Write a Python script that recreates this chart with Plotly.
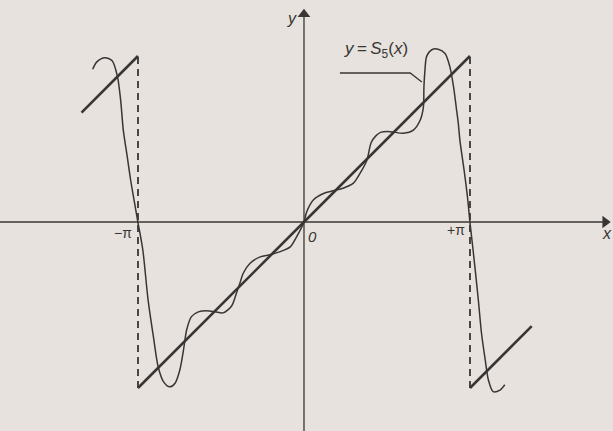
import math
import plotly.graph_objects as go

PI = math.pi

# Sawtooth f(x) = x on (-pi, pi) and its periodic continuation
saw_mid_x = [-PI, PI]
saw_mid_y = [-PI, PI]
saw_left_x = [-4.21, -PI]
saw_left_y = [2.07, PI]
saw_right_x = [PI, 4.31]
saw_right_y = [-PI, -1.97]

# Jump lines at x = -pi and x = +pi
jump_x = [-PI, PI]
jump_lo = [-PI, -PI]
jump_hi = [PI, PI]

# Partial sum S5(x), sampled along the drawn curve
s5_x = [-4.00, -3.92, -3.77, -3.63, -3.53, -3.47, -3.42, -3.35, -3.28, -3.21,
        -3.14, -3.05, -2.95, -2.85, -2.76, -2.66, -2.54, -2.44, -2.35, -2.28,
        -2.22, -2.13, -2.00, -1.84, -1.68, -1.53, -1.37, -1.27, -1.21, -1.15,
        -1.02, -0.83, -0.64, -0.45, -0.26, -0.14, 0.00, 0.05, 0.18, 0.37,
        0.55, 0.74, 0.93, 1.06, 1.19, 1.27, 1.36, 1.46, 1.63, 1.88,
        2.07, 2.20, 2.26, 2.27, 2.29, 2.32, 2.42, 2.54, 2.67, 2.76,
        2.83, 2.88, 2.92, 2.95, 3.03, 3.10, 3.14, 3.20, 3.30, 3.36,
        3.43, 3.49, 3.58, 3.71, 3.80]
s5_y = [2.89, 3.03, 3.11, 3.05, 2.75, 2.31, 1.74, 1.27, 0.79, 0.38,
        -0.02, -0.53, -1.48, -2.17, -2.74, -3.02, -3.12, -3.05, -2.80, -2.42,
        -2.04, -1.79, -1.70, -1.68, -1.70, -1.72, -1.59, -1.32, -1.15, -0.97,
        -0.78, -0.66, -0.62, -0.56, -0.47, -0.28, 0.00, 0.19, 0.42, 0.54,
        0.59, 0.64, 0.73, 0.92, 1.17, 1.50, 1.63, 1.70, 1.71, 1.68,
        1.74, 1.93, 2.18, 2.56, 2.88, 3.13, 3.26, 3.27, 3.19, 2.94,
        2.56, 2.18, 1.87, 1.55, 0.98, 0.42, 0.00, -0.53, -1.48, -2.11,
        -2.61, -2.99, -3.21, -3.18, -3.08]

# Axis tick labels
tick_x = [-PI, PI]
tick_text = ["\u2212\u03c0", "+\u03c0"]

X_RANGE = [-5.753, 5.848]
Y_RANGE = [-3.955, 4.201]

BG = "#e7e2de"
INK = "#383635"
FONT = "Liberation Sans, Arial, sans-serif"

fig = go.Figure()


def line(xs, ys, width, dash=None, shape="linear"):
    fig.add_trace(go.Scatter(x=xs, y=ys, mode="lines",
                             line=dict(color=INK, width=width, dash=dash,
                                       shape=shape),
                             hoverinfo="skip", showlegend=False))


# coordinate axes
line([X_RANGE[0], 5.70], [0, 0], 1.3)
line([0, 0], [Y_RANGE[0], 3.93], 1.3)
# arrowheads
fig.add_trace(go.Scatter(x=[5.70], y=[0], mode="markers",
                         marker=dict(symbol="triangle-right", size=11,
                                     color=INK, line=dict(width=0)),
                         hoverinfo="skip", showlegend=False))
fig.add_trace(go.Scatter(x=[0], y=[3.93], mode="markers",
                         marker=dict(symbol="triangle-up", size=11,
                                     color=INK, line=dict(width=0)),
                         hoverinfo="skip", showlegend=False))

# dashed jump lines
for jx, lo, hi in zip(jump_x, jump_lo, jump_hi):
    line([jx, jx], [lo, hi], 1.8, dash="7px,5px")

# sawtooth pieces
for sx, sy in [(saw_mid_x, saw_mid_y), (saw_left_x, saw_left_y),
               (saw_right_x, saw_right_y)]:
    line(sx, sy, 2.6)

# S5 curve
fig.add_trace(go.Scatter(x=s5_x, y=s5_y, mode="lines",
                         line=dict(color=INK, width=1.5, shape="spline",
                                   smoothing=0.8),
                         hoverinfo="skip", showlegend=False))

# leader line for the curve label
line([0.68, 2.01, 2.23], [2.82, 2.82, 2.65], 1.3)

fig.add_annotation(x=1.36, y=3.00, xref="x", yref="y", showarrow=False,
                   text="<i>y</i>\u2009=\u2009<i>S</i><sub>5</sub>(<i>x</i>)",
                   font=dict(family=FONT, size=17, color=INK),
                   xanchor="center", yanchor="bottom")

# axis names
fig.add_annotation(x=-0.23, y=3.86, xref="x", yref="y", showarrow=False,
                   text="<i>y</i>", font=dict(family=FONT, size=16, color=INK))
fig.add_annotation(x=5.74, y=-0.21, xref="x", yref="y", showarrow=False,
                   text="<i>x</i>", font=dict(family=FONT, size=16, color=INK))
fig.add_annotation(x=0.17, y=-0.27, xref="x", yref="y", showarrow=False,
                   text="<i>0</i>", font=dict(family=FONT, size=15, color=INK))

# pi tick labels
for tx, tt, dx, dy in zip(tick_x, tick_text, [-0.29, -0.26], [-0.21, -0.15]):
    fig.add_annotation(x=tx + dx, y=dy, xref="x", yref="y", showarrow=False,
                       text=tt, font=dict(family=FONT, size=14, color=INK))

fig.update_layout(
    width=613, height=431,
    margin=dict(l=0, r=0, t=0, b=0),
    paper_bgcolor=BG, plot_bgcolor=BG,
    xaxis=dict(range=X_RANGE, visible=False, fixedrange=True),
    yaxis=dict(range=Y_RANGE, visible=False, fixedrange=True),
    showlegend=False,
)

fig.write_html("out.html")
